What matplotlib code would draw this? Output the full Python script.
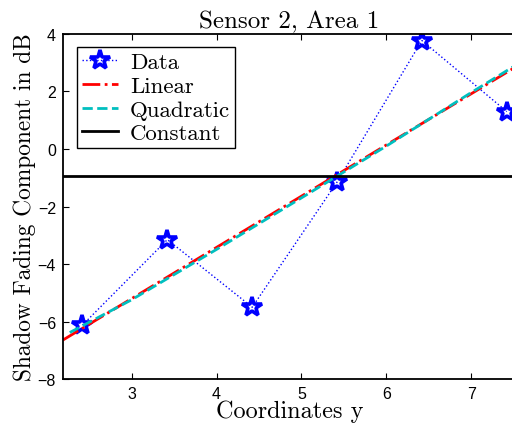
import matplotlib
matplotlib.use("Agg")
import matplotlib.pyplot as plt

# --- data ---
y_coord = [2.42, 3.42, 4.42, 5.42, 6.42, 7.42]
shadow_db = [-6.12, -3.15, -5.50, -1.15, 3.77, 1.30]

lin_x = [2.19, 7.53]
lin_y = [-6.64, 2.86]

quad_x = [2.27, 3.0, 4.0, 5.0, 6.0, 7.0, 7.53]
quad_y = [-6.38, -5.24, -3.49, -1.70, 0.10, 1.96, 2.92]

const_db = -0.95

serif = "cmr10"

fig = plt.figure(figsize=(5.12, 4.31), dpi=100)
ax = fig.add_axes([0.123, 0.118, 0.885, 0.801])

ax.plot(y_coord, shadow_db, ":", color="blue", lw=1.0, marker="*",
        markersize=15, markerfacecolor="none", markeredgecolor="blue",
        markeredgewidth=2.6, label="Data")
ax.plot(lin_x, lin_y, "-.", color="red", lw=2.0, label="Linear")
ax.plot(quad_x, quad_y, "--", color="#00bfbf", lw=2.0, label="Quadratic")
ax.axhline(const_db, color="black", lw=2.0, label="Constant")

ax.set_xlim(2.19, 7.53)
ax.set_ylim(-8, 4)
ax.set_xticks([3, 4, 5, 6, 7])
ax.set_yticks([-8, -6, -4, -2, 0, 2, 4])
ax.set_yticklabels(["\u22128", "\u22126", "\u22124", "\u22122", "0", "2", "4"])
ax.tick_params(direction="in", top=True, right=False, length=4, width=0.8,
               labelsize=11.5, pad=5)
for lab in ax.get_xticklabels() + ax.get_yticklabels():
    lab.set_fontfamily("Liberation Sans")
for s in ax.spines.values():
    s.set_linewidth(1.3)

ax.set_title("Sensor 2, Area 1", fontfamily=serif, fontsize=18, pad=5)
ax.set_xlabel("Coordinates y", fontfamily=serif, fontsize=17.5, labelpad=-1)
ax.set_ylabel("Shadow Fading Component in dB", fontfamily=serif,
              fontsize=16.8, labelpad=1)

leg = ax.legend(loc="upper left", bbox_to_anchor=(0.031, 0.962),
                prop={"family": serif, "size": 16.5}, fancybox=False,
                framealpha=1, edgecolor="black", borderpad=0.22,
                labelspacing=0.16, handlelength=1.55, handletextpad=0.55,
                borderaxespad=0)
leg.get_frame().set_linewidth(1.0)

fig.savefig("out.png", dpi=100)
